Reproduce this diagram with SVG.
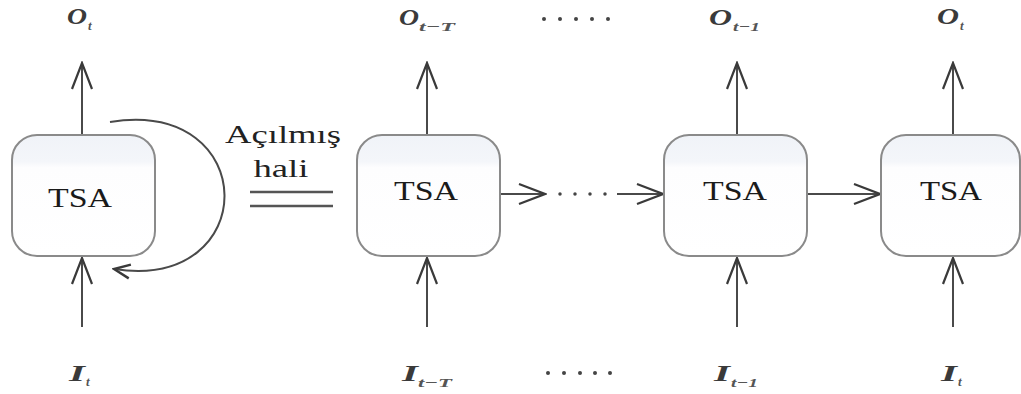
<svg xmlns="http://www.w3.org/2000/svg" width="1021" height="394" viewBox="0 0 1021 394">
<style>
.box{fill:url(#g);stroke:#8a8a8a;stroke-width:2}
.ln{fill:none;stroke:#4a4a4a;stroke-width:2}
.tsa{font-family:"Liberation Serif","Times New Roman",serif;font-size:27px;fill:#1a1a1a}
.lbl{font-family:"Liberation Serif","Times New Roman",serif;font-size:23px;font-weight:bold;font-style:italic;fill:#3a3a3a}
.sub{font-family:"Liberation Serif","Times New Roman",serif;font-size:13px;font-weight:bold;font-style:italic;fill:#555}
.txt{font-family:"Liberation Serif","Times New Roman",serif;font-size:25px;fill:#222}
</style>
<defs>
<linearGradient id="g" x1="0" y1="0" x2="0" y2="1">
<stop offset="0" stop-color="#f0f3f8"/>
<stop offset="0.22" stop-color="#f4f6fa"/>
<stop offset="0.27" stop-color="#fdfdfe"/>
<stop offset="1" stop-color="#ffffff"/>
</linearGradient>
<marker id="ah" viewBox="-28 -12 30 24" refX="0" refY="0" markerWidth="30" markerHeight="24" markerUnits="userSpaceOnUse" orient="auto">
<path d="M-26,-10 L0,0 L-26,10" fill="none" stroke="#3a3a3a" stroke-width="2.2" stroke-linejoin="miter"/>
</marker>
<marker id="ah2" viewBox="-20 -10 22 20" refX="0" refY="0" markerWidth="22" markerHeight="20" markerUnits="userSpaceOnUse" orient="auto">
<path d="M-16,-7 L0,0 L-16,7" fill="none" stroke="#3a3a3a" stroke-width="2.4"/>
</marker>
</defs>
<rect width="1021" height="394" fill="#ffffff"/>

<g id="connectors">
<line class="ln" x1="82" y1="135" x2="82" y2="63" marker-end="url(#ah)"/>
<line class="ln" x1="82" y1="327" x2="82" y2="258" marker-end="url(#ah)"/>
<path class="ln" d="M110,122 C262,98 262,292 114,269" marker-end="url(#ah2)"/>
<line class="ln" x1="427" y1="135" x2="427" y2="63" marker-end="url(#ah)"/>
<line class="ln" x1="427" y1="327" x2="427" y2="258" marker-end="url(#ah)"/>
<line class="ln" x1="737" y1="135" x2="737" y2="63" marker-end="url(#ah)"/>
<line class="ln" x1="737" y1="327" x2="737" y2="258" marker-end="url(#ah)"/>
<line class="ln" x1="953" y1="135" x2="953" y2="63" marker-end="url(#ah)"/>
<line class="ln" x1="953" y1="327" x2="953" y2="258" marker-end="url(#ah)"/>
<line class="ln" x1="501" y1="194" x2="545" y2="194" marker-end="url(#ah)"/>
<line x1="560" y1="194" x2="612" y2="194" stroke="#444" stroke-width="3.5" stroke-linecap="round" stroke-dasharray="0 15"/>
<line class="ln" x1="617" y1="194" x2="663" y2="194" marker-end="url(#ah)"/>
<line class="ln" x1="808" y1="194" x2="880" y2="194" marker-end="url(#ah)"/>
</g>

<g id="node-tsa-folded">
<rect class="box" x="12" y="135" width="143" height="121" rx="25"/>
<text class="tsa" x="80" y="207" text-anchor="middle" textLength="64" lengthAdjust="spacingAndGlyphs">TSA</text>
</g>
<g id="node-tsa-t-T">
<rect class="box" x="357" y="135" width="143" height="121" rx="25"/>
<text class="tsa" x="426" y="200" text-anchor="middle" textLength="64" lengthAdjust="spacingAndGlyphs">TSA</text>
</g>
<g id="node-tsa-t-1">
<rect class="box" x="664" y="135" width="143" height="121" rx="25"/>
<text class="tsa" x="735" y="200" text-anchor="middle" textLength="64" lengthAdjust="spacingAndGlyphs">TSA</text>
</g>
<g id="node-tsa-t">
<rect class="box" x="881" y="135" width="139" height="121" rx="25"/>
<text class="tsa" x="951" y="200" text-anchor="middle" textLength="62" lengthAdjust="spacingAndGlyphs">TSA</text>
</g>

<g id="unfold-label">
<text class="txt" x="283" y="143" text-anchor="middle" textLength="116" lengthAdjust="spacingAndGlyphs">Açılmış</text>
<text class="txt" x="281" y="177" text-anchor="middle" textLength="55" lengthAdjust="spacingAndGlyphs">hali</text>
<line x1="250" y1="192" x2="333" y2="192" stroke="#555" stroke-width="2.5"/>
<line x1="250" y1="206" x2="333" y2="206" stroke="#555" stroke-width="2.5"/>
</g>

<g id="labels">
<text class="lbl" x="67" y="24" textLength="20" lengthAdjust="spacingAndGlyphs">O</text>
<text class="sub" x="88" y="30">t</text>
<text class="lbl" x="69" y="381" textLength="16" lengthAdjust="spacingAndGlyphs">I</text>
<text class="sub" x="86" y="386">t</text>

<text class="lbl" x="399" y="25" textLength="20" lengthAdjust="spacingAndGlyphs">O</text>
<text class="sub" x="419" y="31" textLength="36" lengthAdjust="spacingAndGlyphs">t−T</text>
<text class="lbl" x="402" y="381" textLength="16" lengthAdjust="spacingAndGlyphs">I</text>
<text class="sub" x="418" y="387" textLength="34" lengthAdjust="spacingAndGlyphs">t−T</text>

<text class="lbl" x="709" y="25" textLength="23" lengthAdjust="spacingAndGlyphs">O</text>
<text class="sub" x="733" y="31" textLength="27" lengthAdjust="spacingAndGlyphs">t−1</text>
<text class="lbl" x="714" y="381" textLength="16" lengthAdjust="spacingAndGlyphs">I</text>
<text class="sub" x="731" y="387" textLength="27" lengthAdjust="spacingAndGlyphs">t−1</text>

<text class="lbl" x="937" y="24" textLength="22" lengthAdjust="spacingAndGlyphs">O</text>
<text class="sub" x="960" y="30">t</text>
<text class="lbl" x="941" y="381" textLength="16" lengthAdjust="spacingAndGlyphs">I</text>
<text class="sub" x="958" y="386">t</text>

<g fill="#444">
<circle cx="544" cy="19" r="2"/><circle cx="560" cy="19" r="2"/><circle cx="576" cy="19" r="2"/><circle cx="592" cy="19" r="2"/><circle cx="608" cy="19" r="2"/>
<circle cx="548" cy="373" r="2"/><circle cx="564" cy="373" r="2"/><circle cx="580" cy="373" r="2"/><circle cx="595" cy="373" r="2"/><circle cx="610" cy="373" r="2"/>
</g>
</g>
</svg>
